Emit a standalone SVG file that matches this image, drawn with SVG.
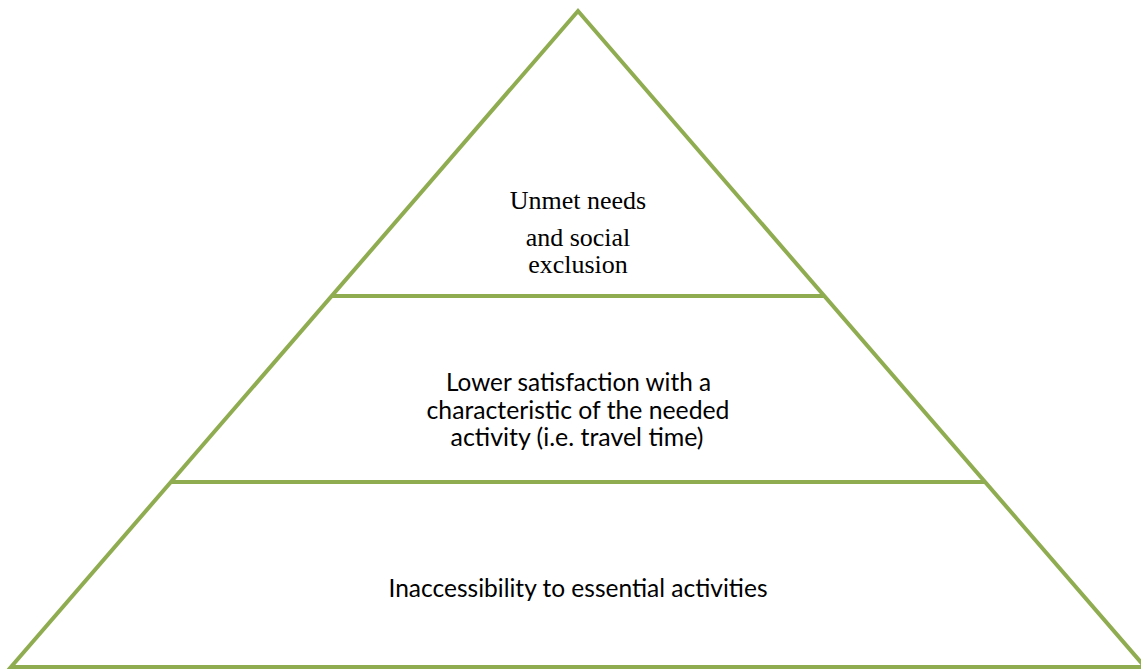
<svg xmlns="http://www.w3.org/2000/svg" width="1141" height="670" viewBox="0 0 1141 670">
  <style>
    .edge { fill: none; stroke: #8FAD50; stroke-width: 4; stroke-linejoin: miter; }
    .serif { font-family: "Liberation Serif", "Times New Roman", serif; font-size: 26px; fill: #000; text-anchor: middle; }
    .sans { font-family: Lato, "Liberation Sans", sans-serif; font-size: 25px; fill: #000; text-anchor: middle; }
  </style>
  <rect width="1141" height="670" fill="#ffffff"/>
  <g id="outline">
    <polygon class="edge" points="578,11 1145,667 11,667"/>
  </g>
  <g id="connectors">
    <line class="edge" x1="332" y1="296" x2="824" y2="296"/>
    <line class="edge" x1="171" y1="482" x2="985" y2="482"/>
  </g>
  <g id="tier-top">
    <text class="serif" x="578" y="209">Unmet needs</text>
    <text class="serif" x="578" y="246">and social</text>
    <text class="serif" x="578" y="273">exclusion</text>
  </g>
  <g id="tier-middle">
    <text class="sans" x="578.5" y="391" textLength="265" lengthAdjust="spacingAndGlyphs">Lower satisfaction with a</text>
    <text class="sans" x="578" y="419" textLength="303" lengthAdjust="spacingAndGlyphs">characteristic of the needed</text>
    <text class="sans" x="577" y="446" textLength="253" lengthAdjust="spacingAndGlyphs">activity (i.e. travel time)</text>
  </g>
  <g id="tier-bottom">
    <text class="sans" x="578" y="597" textLength="379" lengthAdjust="spacingAndGlyphs">Inaccessibility to essential activities</text>
  </g>
</svg>
